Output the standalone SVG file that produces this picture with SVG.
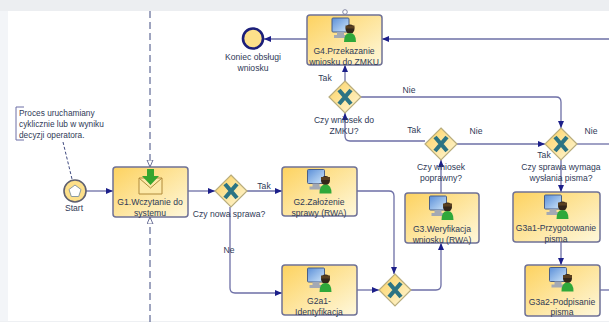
<svg xmlns="http://www.w3.org/2000/svg" width="609" height="322" viewBox="0 0 609 322">
<style>
text{font-family:"Liberation Sans",Arial,sans-serif;font-size:8.6px;fill:#2f3a57;text-anchor:middle}
.l{text-anchor:start;font-size:8.3px}
.task{fill:url(#tg);stroke:#6f7196;stroke-width:1.5}
.gw{fill:url(#tg);stroke:#b9ad7c;stroke-width:1.2}
.x{stroke:#2c7484;stroke-width:4.2;fill:none}
.c{fill:none;stroke:#6d6fa6;stroke-width:1.3}
.d{fill:none;stroke:#3f4a80;stroke-width:1;stroke-dasharray:7 4}
</style>
<defs>
<linearGradient id="tg" x1="0" y1="0" x2="1" y2="1"><stop offset="0" stop-color="#fdd25f"/><stop offset="1" stop-color="#fef8dc"/></linearGradient>
<linearGradient id="sc" x1="0" y1="0" x2="1" y2="1"><stop offset="0" stop-color="#5b8fd8"/><stop offset="1" stop-color="#cfe6fa"/></linearGradient>
<marker id="a" markerWidth="8" markerHeight="8" refX="7" refY="3.500" orient="auto" markerUnits="userSpaceOnUse"><path d="M0 0.500L7 3.500L0 6.500z" fill="#1c1f8a"/></marker>
<marker id="o" markerWidth="8" markerHeight="8" refX="7" refY="3.500" orient="auto" markerUnits="userSpaceOnUse"><path d="M0 0.500L7 3.500L0 6.500z" fill="#fff" stroke="#4a5080" stroke-width="0.8"/></marker>
<g id="pc">
<rect x="-12" y="-12" width="17" height="14" rx="1" fill="url(#sc)" stroke="#4a5f86" stroke-width="1"/>
<path d="M-7 2h7v3h3v3h-13v-3h3z" fill="#a4a9b3"/>
<circle cx="6" cy="-1" r="4.500" fill="#33261a"/>
<rect x="1.500" y="-4.500" width="9" height="3" fill="#5a4020"/>
<path d="M0 12q0-9 6-9q6 0 6 9z" fill="#2fa83a"/>
</g>
</defs>
<rect width="609" height="11" fill="#eceef1"/>
<rect y="11" width="8" height="311" fill="#f3f5f8"/>
<rect y="321" width="609" height="1" fill="#eef0f3"/>
<g id="connectors">
<path class="d" d="M150 11V167" marker-end="url(#o)"/>
<path class="d" d="M150 322V217" marker-end="url(#o)"/>
<path class="d" style="stroke-dasharray:3 2" d="M63 142L72 179"/>
<path class="c" d="M86 191H113" marker-end="url(#a)"/>
<path class="c" d="M188 191H215" marker-end="url(#a)"/>
<path class="c" d="M247 191H282" marker-end="url(#a)"/>
<path class="c" d="M230 207V288q0 5 5 5H282" marker-end="url(#a)"/>
<path class="c" d="M357 191H389q5 0 5 5V274" marker-end="url(#a)"/>
<path class="c" d="M357 290H379" marker-end="url(#a)"/>
<path class="c" d="M411 290H436q5 0 5-5V243" marker-end="url(#a)"/>
<path class="c" d="M441 193V160" marker-end="url(#a)"/>
<path class="c" d="M425 141H350q-5 0-5-5V113" marker-end="url(#a)"/>
<path class="c" d="M345 81V65" marker-end="url(#a)"/>
<path class="c" d="M361 97H556q5 0 5 5V128" marker-end="url(#a)"/>
<path class="c" d="M457 144H545" marker-end="url(#a)"/>
<path class="c" d="M577 144H609"/>
<path class="c" d="M561 160V192" marker-end="url(#a)"/>
<path class="c" d="M561 242V265" marker-end="url(#a)"/>
<path class="c" d="M600 290H609"/>
<path class="c" d="M307 39H264" marker-end="url(#a)"/>
<path class="c" d="M609 39H382" marker-end="url(#a)"/>
</g>
<g id="note">
<path d="M24 107H16V140H24" fill="none" stroke="#6d6fa6" stroke-width="1"/>
<text class="l" x="19" y="116">Proces uruchamiany</text>
<text class="l" x="19" y="127">cyklicznie lub w wyniku</text>
<text class="l" x="19" y="137.500">decyzji operatora.</text>
</g>
<g id="start">
<circle cx="75" cy="191" r="11" fill="#fde08a" stroke="#5f6070" stroke-width="1.6"/>
<path d="M75 185L81 189.500L78.700 196.500H71.300L69 189.500z" fill="#fff" stroke="#8a9aa0"/>
<text x="74" y="211">Start</text>
</g>
<g id="g1">
<rect class="task" x="113" y="167" width="75" height="50" rx="3"/>
<path d="M139 178H162V194H139z" fill="#fde9a8" stroke="#b08a3a"/>
<path d="M139 178L150.500 188L162 178" fill="none" stroke="#b08a3a"/>
<path d="M147 169H154V176H159L150.500 185L142 176H147z" fill="#35a52f"/>
<text x="150" y="205">G1.Wczytanie do</text>
<text x="150" y="216">systemu</text>
</g>
<g id="gw1">
<path class="gw" d="M231 175L247 191L231 207L215 191z"/>
<path class="x" d="M225 184L237 198M237 184L225 198"/>
<text x="229" y="217">Czy nowa sprawa?</text>
</g>
<g id="g2">
<rect class="task" x="282" y="167" width="75" height="49" rx="3"/>
<use href="#pc" x="319.500" y="181.500"/>
<text x="319" y="205">G2.Założenie</text>
<text x="319" y="216">sprawy (RWA)</text>
</g>
<g id="g2a1">
<rect class="task" x="282" y="265" width="75" height="50" rx="3"/>
<use href="#pc" x="319.500" y="280"/>
<text x="319" y="304">G2a1-</text>
<text x="319" y="315">Identyfikacja</text>
</g>
<g id="gw2">
<path class="gw" d="M395 274L411 290L395 306L379 290z"/>
<path class="x" d="M389 283L401 297M401 283L389 297"/>
</g>
<g id="g3">
<rect class="task" x="405" y="193" width="74" height="50" rx="3"/>
<use href="#pc" x="441.500" y="208"/>
<text x="442" y="232">G3.Weryfikacja</text>
<text x="442" y="242.500">wniosku (RWA)</text>
</g>
<g id="gw3">
<path class="gw" d="M441 128L457 144L441 160L425 144z"/>
<path class="x" d="M435 137L447 151M447 137L435 151"/>
<text x="441" y="170">Czy wniosek</text>
<text x="441" y="181">poprawny?</text>
</g>
<g id="gw4">
<path class="gw" d="M561 128L577 144L561 160L545 144z"/>
<path class="x" d="M555 137L567 151M567 137L555 151"/>
<text x="561" y="170">Czy sprawa wymaga</text>
<text x="561" y="181">wysłania pisma?</text>
</g>
<g id="g3a1">
<rect class="task" x="513" y="192" width="87" height="50" rx="3"/>
<use href="#pc" x="556.500" y="207"/>
<text x="556" y="231">G3a1-Przygotowanie</text>
<text x="556" y="241.500">pisma</text>
</g>
<g id="g3a2">
<rect class="task" x="525" y="265" width="75" height="51" rx="3"/>
<use href="#pc" x="561.500" y="279.500"/>
<text x="562" y="304.500">G3a2-Podpisanie</text>
<text x="562" y="315">pisma</text>
</g>
<g id="g4">
<circle cx="345" cy="12" r="2.300" fill="#fff" stroke="#6a6f90" stroke-width="0.8"/>
<rect class="task" x="307" y="15" width="75" height="50" rx="3"/>
<use href="#pc" x="344" y="30"/>
<text x="344" y="54">G4.Przekazanie</text>
<text x="344" y="65">wniosku do ZMKU</text>
</g>
<g id="gw5">
<path class="gw" d="M345 81L361 97L345 113L329 97z"/>
<path class="x" d="M339 90L351 104M351 90L339 104"/>
<text x="344" y="123">Czy wniosek do</text>
<text x="344" y="134">ZMKU?</text>
</g>
<g id="end">
<circle cx="253" cy="38.500" r="10" fill="#fde08a" stroke="#1c1f7a" stroke-width="2.600"/>
<text x="253" y="60">Koniec obsługi</text>
<text x="253" y="70.500">wniosku</text>
</g>
<g id="labels">
<text x="264" y="189">Tak</text>
<text x="229" y="253">Ne</text>
<text x="325" y="81">Tak</text>
<text x="409" y="93">Nie</text>
<text x="414" y="133">Tak</text>
<text x="476" y="134">Nie</text>
<text x="544" y="158">Tak</text>
<text x="591" y="134">Nie</text>
</g>
</svg>
